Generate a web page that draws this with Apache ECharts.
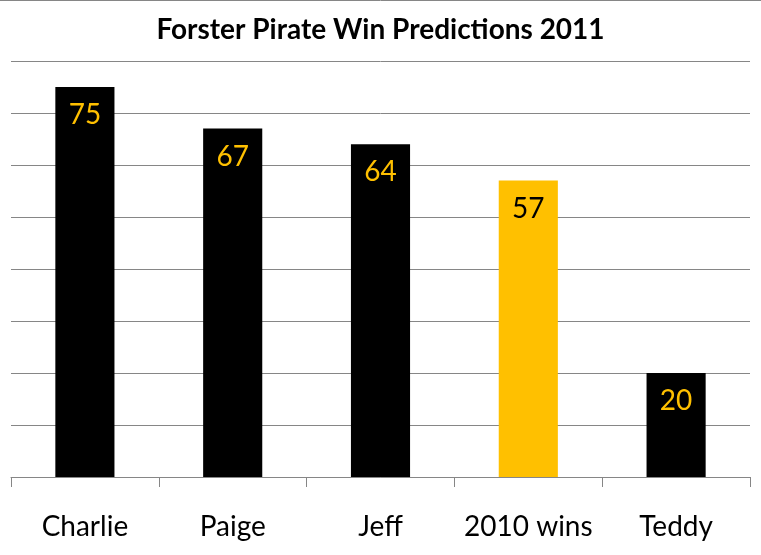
<!DOCTYPE html>
<html>
<head>
<meta charset="utf-8">
<script src="https://cdn.jsdelivr.net/npm/echarts@6/dist/echarts.min.js"></script>
<style>
  html, body { margin: 0; padding: 0; background: #fff; }
  #main { width: 761px; height: 555px; }
</style>
</head>
<body>
<div id="main"></div>
<script>
// data
var categories = ['Charlie', 'Paige', 'Jeff', '2010 wins', 'Teddy'];
var wins = [75, 67, 64, 57, 20];
var highlight = '2010 wins';

var gold = '#FFC000';
var gridGray = '#868686';
var font = 'Lato, "Open Sans", sans-serif';

var chart = echarts.init(document.getElementById('main'));

var barData = wins.map(function (v, i) {
    var isHi = categories[i] === highlight;
    return {
        value: v,
        itemStyle: { color: isHi ? gold : '#000' },
        label: { color: isHi ? '#000' : gold }
    };
});

var option = {
    animation: false,
    title: {
        text: 'Forster Pirate Win Predictions 2011',
        left: 'center',
        top: 11,
        textStyle: { fontFamily: font, fontSize: 28, fontWeight: 'bold', color: '#000' }
    },
    graphic: [{
        type: 'line',
        shape: { x1: 0, y1: 0.5, x2: 761, y2: 0.5 },
        style: { stroke: gridGray, lineWidth: 1 }
    }],
    grid: { left: 11, right: 11, top: 61, bottom: 78, containLabel: false },
    xAxis: {
        type: 'category',
        data: categories,
        axisLine: { lineStyle: { color: gridGray, width: 1 } },
        axisTick: { show: true, length: 10, lineStyle: { color: gridGray } },
        axisLabel: { interval: 0, margin: 36, fontFamily: font, fontSize: 28, color: '#000' }
    },
    yAxis: {
        type: 'value',
        min: 0,
        max: 80,
        interval: 10,
        axisLabel: { show: false },
        axisLine: { show: false },
        axisTick: { show: false },
        splitLine: { lineStyle: { color: gridGray, width: 1 } }
    },
    series: [{
        type: 'bar',
        data: barData,
        barWidth: '40%',
        label: {
            show: true,
            position: 'insideTop',
            distance: 14,
            fontFamily: font,
            fontSize: 28
        }
    }]
};

chart.setOption(option);
</script>
</body>
</html>
